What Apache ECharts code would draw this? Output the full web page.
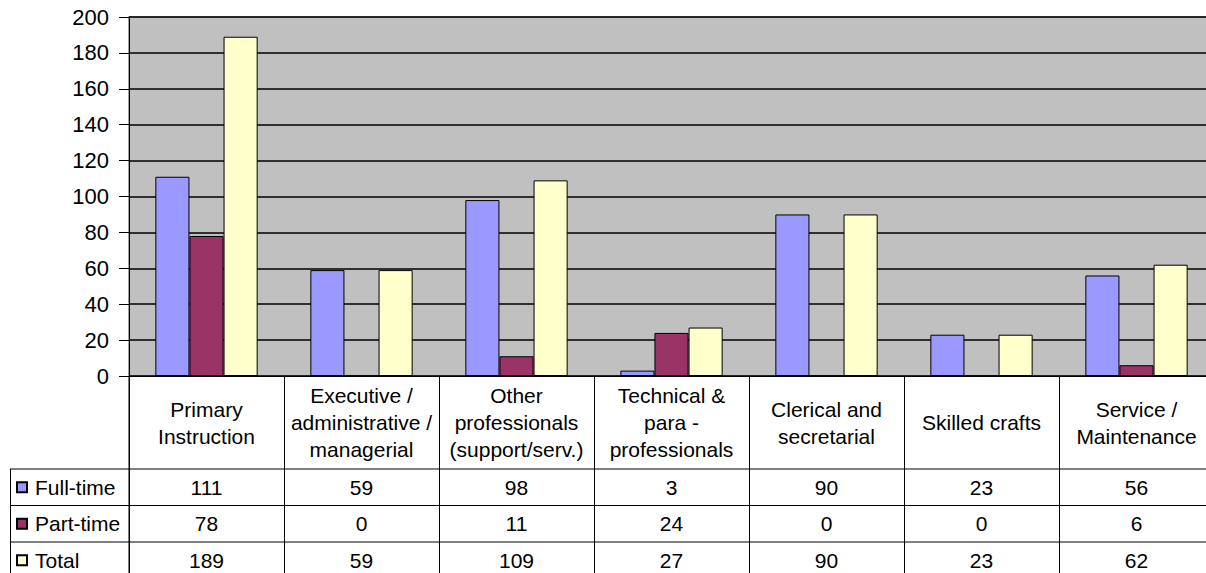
<!DOCTYPE html>
<html>
<head>
<meta charset="utf-8">
<script src="https://cdn.jsdelivr.net/npm/echarts@6/dist/echarts.min.js"></script>
<style>
html,body{margin:0;padding:0;background:#fff;}
#c{width:1206px;height:573px;}
</style>
</head>
<body>
<div id="c"></div>
<script>
const categories = [
  "Primary\nInstruction",
  "Executive /\nadministrative /\nmanagerial",
  "Other\nprofessionals\n(support/serv.)",
  "Technical &\npara -\nprofessionals",
  "Clerical and\nsecretarial",
  "Skilled crafts",
  "Service /\nMaintenance"
];
const seriesNames = ["Full-time", "Part-time", "Total"];
const fullTime = [111, 59, 98, 3, 90, 23, 56];
const partTime = [78, 0, 11, 24, 0, 0, 6];
const total = [189, 59, 109, 27, 90, 23, 62];
const yMin = 0, yMax = 200, yStep = 20;

const FONT = "'Liberation Sans', Arial, sans-serif";
const TABLE_FS = 21;
const colors = ["#9999FF", "#993366", "#FFFFCC"];
const values = [fullTime, partTime, total];

const gridTop = 17, gridLeft = 129, gridHeight = 359, gridWidth = 1085;
const axisY = gridTop + gridHeight;           // 376
const headerBottom = 469;
const rowH = 36.5;

const chart = echarts.init(document.getElementById('c'), null, {renderer: 'svg', width: 1206, height: 573});

function valueAxis(idx, data) {
  const center = headerBottom + rowH * (idx + 0.5);
  return {
    type: 'category', data: data.map(String), position: 'bottom', gridIndex: 0,
    offset: center - axisY,
    axisLine: {show: false}, axisTick: {show: false},
    axisLabel: {interval: 0, margin: 0, verticalAlign: 'middle', fontSize: TABLE_FS, fontFamily: FONT, color: '#000'}
  };
}

function legendRow(idx) {
  const center = headerBottom + rowH * (idx + 0.5);
  return {
    data: [seriesNames[idx]], orient: 'vertical', left: 16, top: center - 11, padding: 0,
    itemWidth: 10, itemHeight: 10, icon: 'rect', selectedMode: false,
    textStyle: {fontSize: TABLE_FS, lineHeight: 22, fontFamily: FONT, color: '#000', padding: [0, 0, 0, 3]}
  };
}

const option = {
  backgroundColor: '#fff',
  animation: false,
  grid: {
    left: gridLeft, top: gridTop, width: gridWidth, height: gridHeight,
    containLabel: false, outerBoundsMode: 'none',
    show: true, backgroundColor: '#C0C0C0', borderColor: '#808080', borderWidth: 1.5
  },
  legend: [legendRow(0), legendRow(1), legendRow(2)],
  xAxis: [
    {
      type: 'category', data: categories, position: 'bottom', gridIndex: 0,
      axisLine: {lineStyle: {color: '#000', width: 1}},
      axisTick: {show: true, interval: 0, length: 573 - axisY, lineStyle: {color: '#000', width: 1}},
      axisLabel: {interval: 0, margin: (headerBottom - axisY) / 2, verticalAlign: 'middle',
        fontSize: TABLE_FS, lineHeight: 27, fontFamily: FONT, color: '#000', align: 'center'}
    },
    valueAxis(0, fullTime),
    valueAxis(1, partTime),
    valueAxis(2, total)
  ],
  yAxis: {
    type: 'value', min: yMin, max: yMax, interval: yStep,
    axisLine: {show: true, lineStyle: {color: '#000', width: 1}},
    axisTick: {show: true, length: 10, lineStyle: {color: '#000'}},
    axisLabel: {fontSize: 22, fontFamily: FONT, color: '#000', margin: 20},
    splitLine: {show: true, lineStyle: {color: '#000', width: 1.5}}
  },
  series: seriesNames.map((n, i) => ({
    name: n, type: 'bar', xAxisIndex: 0, data: values[i],
    barGap: '0%', barCategoryGap: '34%',
    itemStyle: {color: colors[i], borderColor: '#000', borderWidth: 1}
  })),
  graphic: [
    {type: 'line', shape: {x1: 10, y1: headerBottom, x2: 1206, y2: headerBottom}, style: {stroke: '#000', lineWidth: 1}},
    {type: 'line', shape: {x1: 10, y1: headerBottom + rowH, x2: 1206, y2: headerBottom + rowH}, style: {stroke: '#000', lineWidth: 1}},
    {type: 'line', shape: {x1: 10, y1: headerBottom + 2 * rowH, x2: 1206, y2: headerBottom + 2 * rowH}, style: {stroke: '#000', lineWidth: 1}},
    {type: 'line', shape: {x1: 10.5, y1: headerBottom, x2: 10.5, y2: 573}, style: {stroke: '#000', lineWidth: 1}},
    {type: 'line', shape: {x1: gridLeft, y1: axisY, x2: gridLeft, y2: 573}, style: {stroke: '#000', lineWidth: 1}}
  ]
};
chart.setOption(option);
</script>
</body>
</html>
